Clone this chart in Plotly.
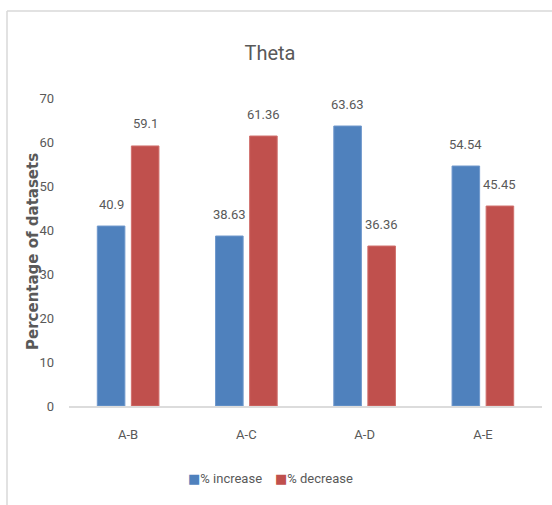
import plotly.graph_objects as go

# Comparison pairs and the share of datasets moving in each direction
categories = ["A-B", "A-C", "A-D", "A-E"]
pct_increase = [40.9, 38.63, 63.63, 54.54]
pct_decrease = [59.1, 61.36, 36.36, 45.45]
series_names = ["% increase", "% decrease"]
y_ticks = [0, 10, 20, 30, 40, 50, 60, 70]

BLUE = "#4f81bd"
RED = "#c0504d"
TEXT = "#595959"
FONT = "Roboto, sans-serif"

W, H = 552, 505
L, R, T, B = 69, 10, 98, 99

fig = go.Figure()
fig.add_trace(go.Bar(
    x=categories, y=pct_increase, name=series_names[0],
    marker=dict(color=BLUE, line=dict(color="#6f98cc", width=1)),
))
fig.add_trace(go.Bar(
    x=categories, y=pct_decrease, name=series_names[1],
    marker=dict(color=RED, line=dict(color="#d0706d", width=1)),
))

# value labels above each bar
for i, (a, b) in enumerate(zip(pct_increase, pct_decrease)):
    for val, dx in ((a, -17), (b, 17)):
        fig.add_annotation(
            x=i, y=val, xref="x", yref="y", text=f"{val:g}",
            showarrow=False, xshift=dx, yshift=22, yanchor="middle",
            font=dict(family=FONT, size=13, color=TEXT),
        )

pw, ph = W - L - R, H - T - B
def px_x(x):
    return (x - L) / pw
def px_y(y):
    return (H - B - y) / ph

# compact legend drawn as a single text line
sq = 'style="color:{};font-family:DejaVu Sans"'
legend_text = (
    f'<span {sq.format(BLUE)}>■</span>{series_names[0]}    '
    f'<span {sq.format(RED)}>■</span>{series_names[1]}'
)
fig.add_annotation(
    x=px_x(270), y=px_y(479), xref="paper", yref="paper",
    text=legend_text, showarrow=False, xanchor="center", yanchor="middle",
    font=dict(family=FONT, size=13, color=TEXT),
)

# vertical axis title
fig.add_annotation(
    x=px_x(33), y=px_y(252), xref="paper", yref="paper",
    text="Percentage of datasets", textangle=-90, showarrow=False,
    xanchor="center", yanchor="middle",
    font=dict(family="DejaVu Sans, Verdana, sans-serif", size=15,
              color=TEXT, weight="bold"),
)

# chart frame (left and top edges)
frame = dict(color="#d9d9d9", width=1.5)
fig.add_shape(type="line", xref="paper", yref="paper",
              x0=px_x(7), x1=px_x(7), y0=px_y(11), y1=px_y(505), line=frame)
fig.add_shape(type="line", xref="paper", yref="paper",
              x0=px_x(7), x1=px_x(552), y0=px_y(11), y1=px_y(11), line=frame)

fig.update_layout(
    width=W, height=H,
    margin=dict(l=L, r=R, t=T, b=B, autoexpand=False),
    paper_bgcolor="white", plot_bgcolor="white",
    barmode="group", bargap=0.424, bargroupgap=0.19,
    title=dict(text="Theta", x=270 / W, xanchor="center",
               y=1 - 53 / H, yanchor="middle",
               font=dict(family=FONT, size=20, color=TEXT)),
    showlegend=False,
    xaxis=dict(showgrid=False, showline=True, linecolor="#dcdcdc", linewidth=1.5,
               ticks="", tickfont=dict(family=FONT, size=13, color=TEXT),
               ticklabelstandoff=16),
    yaxis=dict(range=[0, 70], tickvals=y_ticks, showgrid=False, showline=False,
               zeroline=False, ticks="", ticklabelstandoff=14,
               tickfont=dict(family=FONT, size=13, color=TEXT)),
)

fig.write_html("out.html", config={"displayModeBar": False})
